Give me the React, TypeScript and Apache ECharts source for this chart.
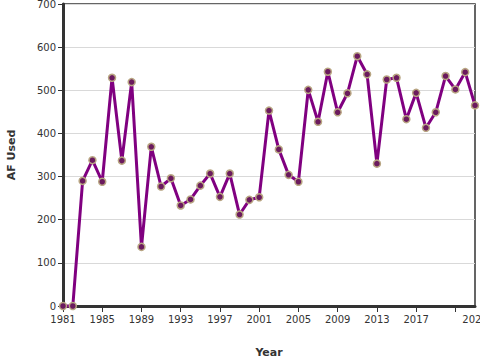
import React, { useEffect, useRef } from "react";
import * as echarts from "echarts";

const years: string[] = [];
for (let y = 1981; y <= 2023; y++) years.push(String(y));

const afUsed: number[] = [
  0, 0, 290, 338, 288, 529, 337, 519, 137, 369,
  277, 296, 233, 247, 279, 307, 253, 307, 212, 246,
  252, 453, 363, 304, 288, 501, 427, 543, 449, 493,
  579, 537, 330, 525, 529, 433, 494, 413, 449, 533,
  502, 542, 465,
];

const yTicks = { min: 0, max: 700, interval: 100 };

export default function App() {
  const ref = useRef<HTMLDivElement>(null);
  useEffect(() => {
    if (!ref.current) return;
    const chart = echarts.init(ref.current, undefined, { renderer: "svg" });
    const font = "DejaVu Sans";
    chart.setOption({
      animation: false,
      backgroundColor: "#ffffff",
      textStyle: { fontFamily: font },
      grid: {
        left: 63,
        right: 5,
        top: 4,
        bottom: 54,
        containLabel: false,
        outerBoundsMode: "none",
        show: true,
        borderColor: "#333",
        borderWidth: 1.5,
        backgroundColor: "transparent",
      },
      xAxis: {
        type: "category",
        data: years,
        boundaryGap: false,
        name: "Year",
        nameLocation: "middle",
        nameGap: 41,
        nameTextStyle: { fontFamily: font, fontWeight: "bold", fontSize: 11, color: "#333" },
        axisLine: { lineStyle: { color: "#333", width: 3 } },
        axisTick: {
          show: true,
          length: 6,
          lineStyle: { color: "#333", width: 1 },
          interval: (i: number) => i % 4 === 0,
        },
        axisLabel: {
          fontFamily: font,
          fontSize: 10,
          color: "#333",
          margin: 8,
          hideOverlap: false,
          interval: (i: number) => (i % 4 === 0 && i !== 40) || i === 42,
        },
        splitLine: { show: false },
      },
      yAxis: {
        type: "value",
        min: yTicks.min,
        max: yTicks.max,
        interval: yTicks.interval,
        name: "AF Used",
        nameLocation: "middle",
        nameGap: 46,
        nameTextStyle: { fontFamily: font, fontWeight: "bold", fontSize: 11, color: "#333" },
        axisLine: { show: true, lineStyle: { color: "#333", width: 3 } },
        axisTick: { show: true, length: 5, lineStyle: { color: "#333", width: 1 } },
        axisLabel: { fontFamily: font, fontSize: 10, color: "#333", margin: 7 },
        splitLine: { show: true, lineStyle: { color: "#d9d9d9", width: 1 } },
      },
      series: [
        {
          type: "line",
          data: afUsed,
          lineStyle: { color: "#800080", width: 3 },
          symbol: "circle",
          symbolSize: 7,
          showAllSymbol: true,
          itemStyle: { color: "#6b1a5e", borderColor: "#b8a582", borderWidth: 1.5 },
          clip: false,
        },
      ],
    });
    return () => chart.dispose();
  }, []);
  return (
    <div
      ref={ref}
      style={{ position: "fixed", left: 0, top: 0, width: 480, height: 360, overflow: "hidden" }}
    />
  );
}
